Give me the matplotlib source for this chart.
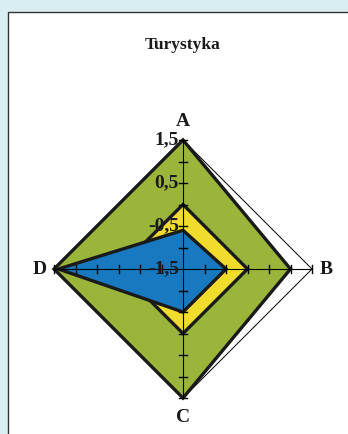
import matplotlib.pyplot as plt
import numpy as np
from matplotlib.patches import Polygon, Rectangle

# dane wykresu radarowego
axis_labels = ['A', 'B', 'C', 'D']
tick_values = [-1.5, -1.0, -0.5, 0.0, 0.5, 1.0, 1.5]
tick_texts = ['-1,5', '-0,5', '0,5', '1,5']
tick_text_values = [-1.5, -0.5, 0.5, 1.5]

outer_values = [1.5, 1.5, 1.5, 1.5]
green_values = [1.5, 1.0, 1.5, 1.5]
yellow_values = [0.0, 0.0, 0.0, 0.0]
blue_values = [-0.6, -0.5, -0.5, 1.4]

v_min, v_max = -1.5, 1.5
angles = np.deg2rad([90, 0, -90, 180])


def to_xy(value, angle):
    r = (value - v_min) / (v_max - v_min)
    return r * np.cos(angle), r * np.sin(angle)


def polygon_points(values):
    return [to_xy(v, a) for v, a in zip(values, angles)]


plt.rcParams['font.family'] = ['Liberation Serif', 'DejaVu Serif']

fig = plt.figure(figsize=(3.48, 4.34), dpi=100)
fig.patch.set_facecolor('#d8eef1')

# biały panel
panel = Rectangle((8 / 348, -0.1), 1.0, 1.1 - 12 / 434, transform=fig.transFigure,
                  facecolor='white', edgecolor='#333333', lw=1.0, zorder=0)
fig.add_artist(panel)

ax = fig.add_axes([0, 0, 1, 1])
ax.set_xlim(-183 / 129, (348 - 183) / 129)
ax.set_ylim(-(434 - 269) / 129, 269 / 129)
ax.axis('off')
ax.patch.set_alpha(0)

ax.add_patch(Polygon(polygon_points(outer_values), closed=True, facecolor='white',
                     edgecolor='black', lw=0.7, zorder=1))
for vals, col in [(green_values, '#9bb53b'), (yellow_values, '#f1db2c'),
                  (blue_values, '#1879c0')]:
    ax.add_patch(Polygon(polygon_points(vals), closed=True, facecolor=col,
                         edgecolor='#1a1a1a', lw=2.4, joinstyle='miter', zorder=2))

# osie i znaczniki
tick_len = 4 / 129
for a in angles:
    x0, y0 = to_xy(v_min, a)
    x1, y1 = to_xy(v_max, a)
    ax.plot([x0, x1], [y0, y1], color='black', lw=0.8, zorder=3)
    for t in tick_values[1:]:
        tx, ty = to_xy(t, a)
        px, py = -np.sin(a) * tick_len, np.cos(a) * tick_len
        ax.plot([tx - px, tx + px], [ty - py, ty + py], color='black', lw=1.0, zorder=3)

for t, s in zip(tick_text_values, tick_texts):
    x, y = to_xy(t, angles[0])
    ax.text(x - 4 / 129, y, s, ha='right', va='center', fontsize=14,
            fontweight='bold', color='#1a1a1a', zorder=4)

offsets = [(0, 18), (14, 0), (0, -20), (-14, 0)]
for lab, a, (dx, dy) in zip(axis_labels, angles, offsets):
    x, y = to_xy(v_max, a)
    ax.text(x + dx / 129, y + dy / 129, lab, ha='center', va='center', fontsize=14,
            fontweight='bold', color='#1a1a1a', zorder=4)

fig.text(183 / 348, 1 - 45 / 434, 'Turystyka', ha='center', va='center', fontsize=12.5,
         fontweight='bold', color='#1a1a1a')

fig.savefig('out.png', dpi=100)
